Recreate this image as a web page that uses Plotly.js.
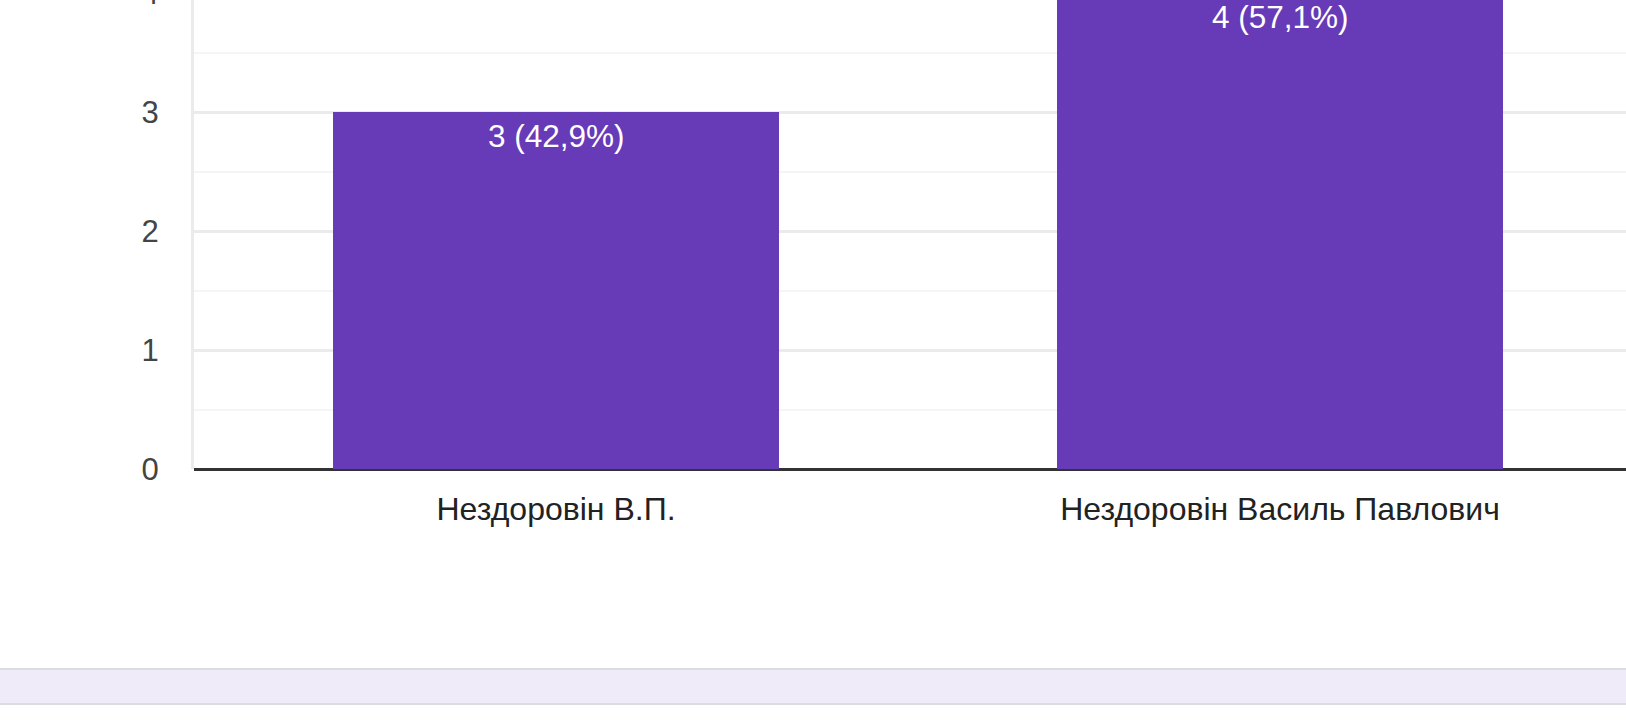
<!DOCTYPE html>
<html>
<head>
<meta charset="utf-8">
<script src="https://cdn.plot.ly/plotly-3.0.1.min.js"></script>
<style>
  html, body { margin: 0; padding: 0; width: 1626px; height: 725px; overflow: hidden; background: #fff; position: relative; }
  #chart { position: absolute; left: 0; top: -107px; width: 1700px; height: 726px; }
  #band { position: absolute; left: 0; top: 668px; width: 1626px; height: 33px; background: #f0ebf8; border-top: 2px solid #dadce0; border-bottom: 2px solid #dadce0; }
</style>
</head>
<body>
<div id="chart"></div>
<div id="band"></div>
<script>
const categories = ["Нездоровін В.П.", "Нездоровін Василь Павлович"];
const counts = [3, 4];
const labels = ["3 (42,9%)", "4 (57,1%)"];
const yTicks = [0, 1, 2, 3, 4];

const trace = {
  type: 'bar',
  x: categories,
  y: counts,
  marker: { color: '#673ab7' },
  hoverinfo: 'none'
};

const annotations = categories.map((c, i) => ({
  x: c,
  y: counts[i],
  xref: 'x',
  yref: 'y',
  text: labels[i],
  showarrow: false,
  xanchor: 'center',
  yanchor: 'middle',
  yshift: -24,
  font: { family: 'Liberation Sans, Arial, sans-serif', size: 31.5, color: '#ffffff' }
}));

const layout = {
  width: 1700,
  height: 726,
  margin: { l: 194, r: 58, t: 100, b: 150 },
  paper_bgcolor: '#ffffff',
  plot_bgcolor: '#ffffff',
  bargap: 0.384,
  showlegend: false,
  annotations: annotations,
  font: { family: 'Liberation Sans, Arial, sans-serif' },
  xaxis: {
    type: 'category',
    range: [-0.5, 1.5],
    showgrid: false,
    showline: false,
    zeroline: false,
    ticks: 'outside',
    ticklen: 12,
    tickcolor: 'rgba(0,0,0,0)',
    tickfont: { size: 32, color: '#222222' },
    fixedrange: true
  },
  yaxis: {
    range: [0, 4],
    tickvals: yTicks,
    ticktext: yTicks.map(String),
    showgrid: true,
    gridcolor: '#ebebeb',
    gridwidth: 3,
    minor: { dtick: 0.5, showgrid: true, gridcolor: '#f5f5f5', gridwidth: 2 },
    zeroline: true,
    zerolinecolor: '#333333',
    zerolinewidth: 3,
    showline: true,
    linecolor: '#ebebeb',
    linewidth: 3,
    ticks: 'outside',
    ticklen: 26,
    tickcolor: 'rgba(0,0,0,0)',
    tickfont: { size: 31, color: '#444444' },
    fixedrange: true
  }
};

Plotly.newPlot('chart', [trace], layout, { staticPlot: true, displayModeBar: false });
</script>
</body>
</html>
